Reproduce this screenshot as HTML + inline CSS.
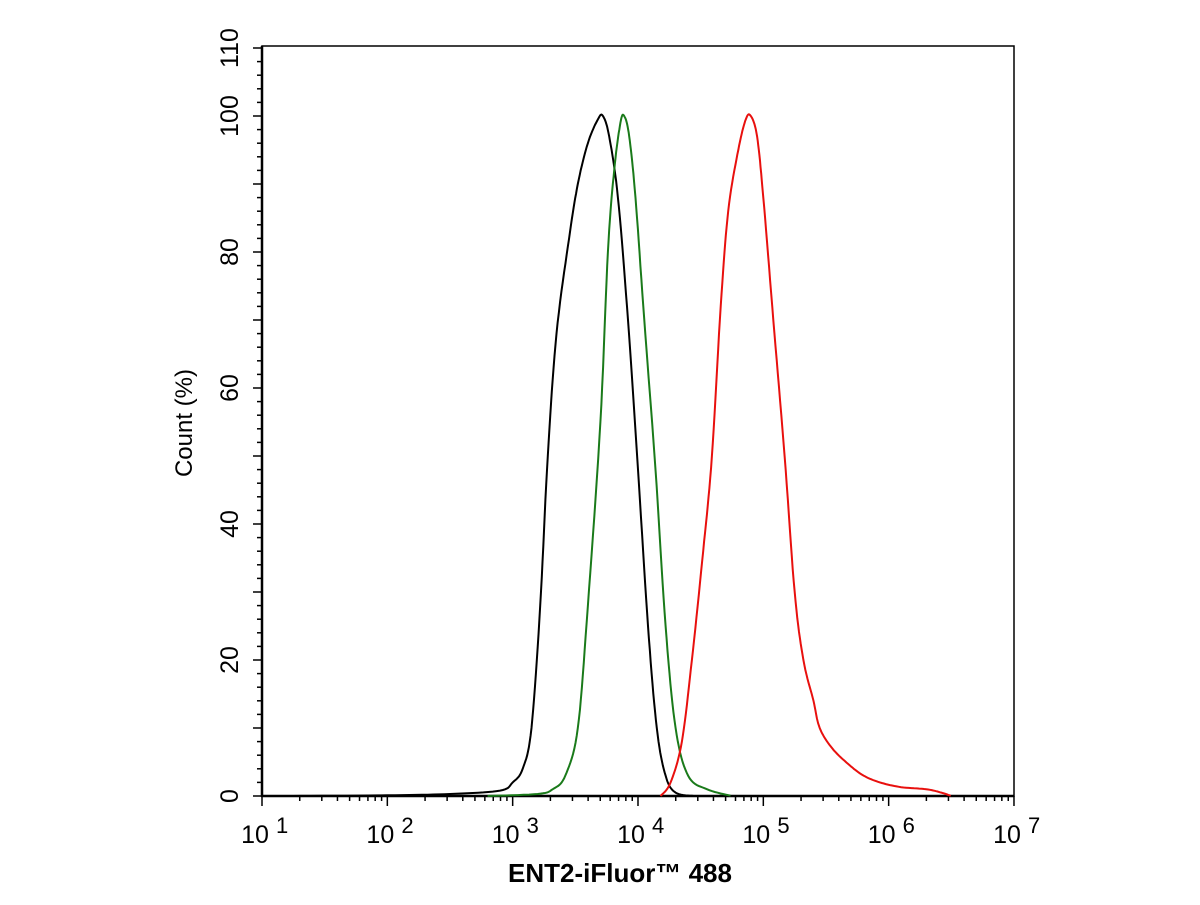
<!DOCTYPE html>
<html><head><meta charset="utf-8"><style>
body{margin:0;background:#fff;width:1200px;height:900px;overflow:hidden}
text{font-family:"Liberation Sans",sans-serif;fill:#000}
</style></head><body>
<svg id="s" width="1200" height="900" xmlns="http://www.w3.org/2000/svg">
<rect x="262" y="46" width="752" height="750" fill="none" stroke="#000" stroke-width="1.5"/>
<line x1="262" y1="46" x2="262" y2="797" stroke="#000" stroke-width="2.5"/>
<line x1="261" y1="796" x2="1014" y2="796" stroke="#000" stroke-width="2.5"/>
<g id="ticks" stroke="#000" stroke-width="1.5"></g>
<g id="labels" font-size="25"></g>
<text x="192" y="423" font-size="24" transform="rotate(-90 192 423)" text-anchor="middle">Count  (%)</text>
<text x="620" y="882" font-size="26" font-weight="bold" text-anchor="middle">ENT2-iFluor™ 488</text>
<g id="curves" fill="none" stroke-width="2"></g>
</svg>
<script>
const NS="http://www.w3.org/2000/svg";
const X=L=>262+(L-1)*125.33, Y=v=>796-v*6.8;
const t=document.getElementById('ticks'),lb=document.getElementById('labels');
function ln(x1,y1,x2,y2){const e=document.createElementNS(NS,'line');e.setAttribute('x1',x1);e.setAttribute('y1',y1);e.setAttribute('x2',x2);e.setAttribute('y2',y2);t.appendChild(e);}
function tx(x,y,s,rot){const e=document.createElementNS(NS,'text');e.setAttribute('x',x);e.setAttribute('y',y);e.setAttribute('text-anchor','middle');if(rot)e.setAttribute('transform',`rotate(-90 ${x} ${y})`);e.textContent=s;lb.appendChild(e);return e;}
for(let v=0;v<=110;v+=2){const y=Y(v);ln(v%10==0?253:257,y,262,y);}
for(let v=0;v<=100;v+=20){tx(238,Y(v),v,true);}
tx(238,Y(110),110,true);
for(let d=1;d<=7;d++){ln(X(d),796,X(d),806);
 tx(X(d)-7,843,'10');const s=document.createElementNS(NS,'text');s.setAttribute('x',X(d)+14);s.setAttribute('y',833);s.setAttribute('font-size','22');s.textContent=d;lb.appendChild(s);
 if(d<7)for(let k=2;k<10;k++){const x=X(d+Math.log10(k));ln(x,796,x,801);}}
const series=[
 ['#000',[[1.2,0],[2,0.1],[2.5,0.3],[2.9,0.8],[3.0,2],[3.08,4],[3.15,10],[3.22,28],[3.28,50],[3.35,68],[3.45,82],[3.52,90],[3.6,96],[3.68,99.5],[3.72,100],[3.77,97],[3.84,88],[3.92,70],[4.0,48],[4.08,25],[4.15,10],[4.22,3],[4.3,0.5],[4.45,0]]],
 ['#1a7a1a',[[2.8,0],[3.2,0.3],[3.32,1],[3.42,3],[3.52,10],[3.6,28],[3.7,55],[3.76,80],[3.81,92],[3.86,99],[3.89,100],[3.93,97],[3.98,88],[4.05,70],[4.14,48],[4.22,25],[4.3,10],[4.4,3],[4.55,1],[4.75,0]]],
 ['#e8100e',[[4.18,0],[4.26,2],[4.35,8],[4.43,20],[4.52,36],[4.59,50],[4.66,72],[4.72,86],[4.8,95],[4.86,99.5],[4.9,100],[4.95,97],[5.0,88],[5.08,70],[5.17,50],[5.25,30],[5.32,20],[5.4,14],[5.45,10],[5.55,7],[5.69,4.5],[5.8,3],[5.93,2],[6.1,1.3],[6.3,1],[6.42,0.5],[6.5,0]]]];
const g=document.getElementById('curves');
for(const [c,p] of series){let d='';
 for(let i=0;i<p.length-1;i++){const p0=p[Math.max(0,i-1)],p1=p[i],p2=p[i+1],p3=p[Math.min(p.length-1,i+2)];
  for(let k=0;k<10;k++){const u=k/10,u2=u*u,u3=u2*u;
   const f=(a,b,cc,dd)=>0.5*(2*b+(-a+cc)*u+(2*a-5*b+4*cc-dd)*u2+(-a+3*b-3*cc+dd)*u3);
   const L=f(p0[0],p1[0],p2[0],p3[0]),v=Math.max(0,f(p0[1],p1[1],p2[1],p3[1]));
   d+=(d?'L':'M')+X(L).toFixed(1)+','+Y(v).toFixed(1);}}
 const e=document.createElementNS(NS,'path');e.setAttribute('d',d);e.setAttribute('stroke',c);g.appendChild(e);}
</script>
</body></html>
